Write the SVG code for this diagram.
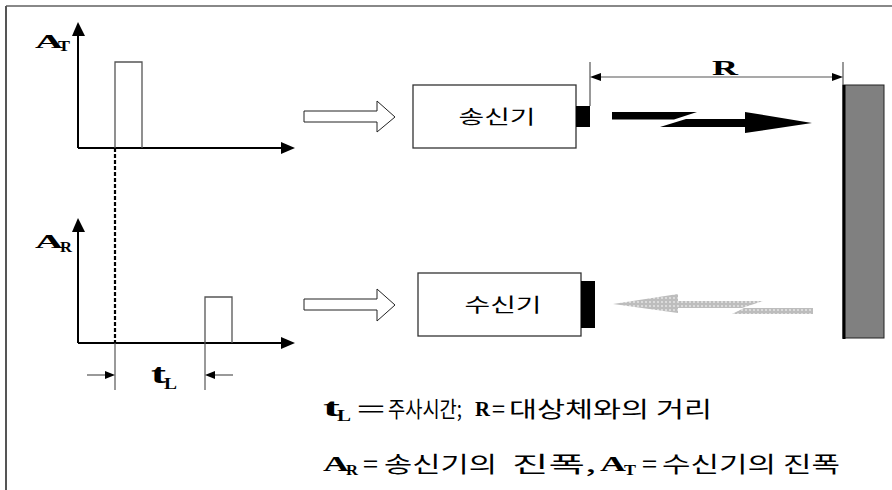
<svg xmlns="http://www.w3.org/2000/svg" width="892" height="490" viewBox="0 0 892 490">
<defs>
<style>
.axis{stroke:#000;stroke-width:2;fill:none}
.pulse{stroke:#555;stroke-width:1.3;fill:none}
.thin{stroke:#555;stroke-width:1.2;fill:none}
.box{fill:#fff;stroke:#333;stroke-width:1.3}
.hollow{fill:#fff;stroke:#222;stroke-width:1}
.ser{font-family:"Liberation Serif","Times New Roman",serif;font-weight:bold;fill:#000}
.kr{font-family:"Noto Sans CJK KR","Noto Sans",sans-serif;fill:#000}
</style>
<pattern id="dots" width="4" height="4" patternUnits="userSpaceOnUse">
<rect width="4" height="4" fill="#bdbdbd"/>
<circle cx="2" cy="2" r="1.1" fill="#e2e2e2"/>
</pattern>
</defs>
<rect width="892" height="490" fill="#fff"/>
<g id="frame">
<line x1="6" y1="6" x2="892" y2="6" stroke="#888" stroke-width="2"/>
<line x1="6" y1="6" x2="6" y2="490" stroke="#555" stroke-width="2"/>
</g>
<g id="chart-top">
<line class="axis" x1="78" y1="148" x2="78" y2="34"/>
<polygon points="78,22 72,36 85,36" fill="#000"/>
<line class="axis" x1="78" y1="148" x2="282" y2="148"/>
<polygon points="295,148 281,142 281,154" fill="#000"/>
<polyline class="pulse" points="115,148 115,62 142,62 142,148"/>
<text class="ser" x="35" y="48" font-size="19" textLength="28" lengthAdjust="spacingAndGlyphs">A</text>
<text class="ser" x="58" y="51" font-size="15" textLength="12" lengthAdjust="spacingAndGlyphs">T</text>
</g>
<g id="chart-bottom">
<line class="axis" x1="78" y1="343" x2="78" y2="230"/>
<polygon points="78,218 72,232 85,232" fill="#000"/>
<line class="axis" x1="78" y1="343" x2="282" y2="343"/>
<polygon points="295,343 281,337 281,349" fill="#000"/>
<polyline class="pulse" points="205,343 205,297 232,297 232,343"/>
<text class="ser" x="35" y="248" font-size="19" textLength="28" lengthAdjust="spacingAndGlyphs">A</text>
<text class="ser" x="60" y="252" font-size="15" textLength="12" lengthAdjust="spacingAndGlyphs">R</text>
</g>
<g id="delay">
<line x1="115" y1="148" x2="115" y2="343" stroke="#000" stroke-width="2.2" stroke-dasharray="4,2"/>
<line class="thin" x1="115" y1="343" x2="115" y2="390"/>
<line class="thin" x1="205" y1="343" x2="205" y2="390"/>
<line class="thin" x1="87" y1="375" x2="106" y2="375"/>
<polygon points="115,375 105,371 105,379" fill="#000"/>
<line class="thin" x1="214" y1="375" x2="233" y2="375"/>
<polygon points="205,375 215,371 215,379" fill="#000"/>
<text class="ser" x="151" y="383" font-size="27" textLength="15" lengthAdjust="spacingAndGlyphs">t</text>
<text class="ser" x="164" y="389" font-size="17" textLength="13" lengthAdjust="spacingAndGlyphs">L</text>
</g>
<g id="input-arrow-top">
<polygon class="hollow" points="304,111 377,111 377,101 395,117 377,132 377,122 304,122"/>
</g>
<g id="input-arrow-bottom">
<polygon class="hollow" points="304,299 377,299 377,289 395,305 377,321 377,310 304,310"/>
</g>
<g id="transmitter">
<rect class="box" x="413" y="85" width="163" height="63"/>
<rect x="576" y="106" width="14" height="21" fill="#000"/>
<text class="kr" x="497" y="124" font-size="19" text-anchor="middle" textLength="77" lengthAdjust="spacingAndGlyphs">송신기</text>
</g>
<g id="receiver">
<rect class="box" x="418" y="273" width="163" height="63"/>
<rect x="581" y="281" width="14" height="47" fill="#000"/>
<text class="kr" x="503" y="312" font-size="19" text-anchor="middle" textLength="77" lengthAdjust="spacingAndGlyphs">수신기</text>
</g>
<g id="target">
<rect x="843" y="85" width="41" height="253" fill="#808080" stroke="#222" stroke-width="1"/>
<line x1="844" y1="85" x2="844" y2="339" stroke="#000" stroke-width="3"/>
</g>
<g id="connectors">
<g id="range">
<line class="thin" x1="590" y1="62" x2="590" y2="106"/>
<line class="thin" x1="843" y1="62" x2="843" y2="85"/>
<line class="thin" x1="600" y1="77" x2="833" y2="77"/>
<polygon points="590,77 601,73 601,81" fill="#000"/>
<polygon points="843,77 832,73 832,81" fill="#000"/>
<text class="ser" x="712" y="75" font-size="21" textLength="26" lengthAdjust="spacingAndGlyphs">R</text>
</g>
<g id="tx-wave">
<polygon points="612,112 697,112 674,119.5 612,119.5" fill="#000"/>
<polygon points="686,119 745,119 745,112 812,123 745,133 745,127 660,127" fill="#000"/>
</g>
<g id="rx-wave">
<polygon points="763,301 678,301 678,294 613,304 678,313 678,308 744,308 732,314 813,314 813,308 742,308" fill="url(#dots)"/>
</g>
</g>
<g id="legend">
<text class="ser" x="323" y="416" font-size="26" textLength="17" lengthAdjust="spacingAndGlyphs">t</text>
<text class="ser" x="337" y="421" font-size="17" textLength="14" lengthAdjust="spacingAndGlyphs">L</text>
<text class="kr" x="357" y="417" font-size="22" textLength="28" lengthAdjust="spacingAndGlyphs">=</text>
<text class="kr" x="388" y="417" font-size="22" textLength="74" lengthAdjust="spacingAndGlyphs">주사시간;</text>
<text class="ser" x="475" y="416" font-size="21" textLength="15" lengthAdjust="spacingAndGlyphs">R</text>
<text class="kr" x="492" y="417" font-size="22" textLength="13" lengthAdjust="spacingAndGlyphs">=</text>
<text class="kr" x="509" y="417" font-size="22" textLength="203" lengthAdjust="spacingAndGlyphs">대상체와의 거리</text>
<text class="ser" x="323" y="471" font-size="21" textLength="26" lengthAdjust="spacingAndGlyphs">A</text>
<text class="ser" x="346" y="475" font-size="15" textLength="12" lengthAdjust="spacingAndGlyphs">R</text>
<text class="kr" x="363" y="472" font-size="22" textLength="15" lengthAdjust="spacingAndGlyphs">=</text>
<text class="kr" x="384" y="472" font-size="22" textLength="113" lengthAdjust="spacingAndGlyphs">송신기의</text>
<text class="kr" x="512" y="472" font-size="22" textLength="84" lengthAdjust="spacingAndGlyphs">진폭,</text>
<text class="ser" x="600" y="471" font-size="21" textLength="26" lengthAdjust="spacingAndGlyphs">A</text>
<text class="ser" x="624" y="475" font-size="15" textLength="12" lengthAdjust="spacingAndGlyphs">T</text>
<text class="kr" x="642" y="472" font-size="22" textLength="15" lengthAdjust="spacingAndGlyphs">=</text>
<text class="kr" x="662" y="472" font-size="22" textLength="178" lengthAdjust="spacingAndGlyphs">수신기의 진폭</text>
</g>
</svg>
